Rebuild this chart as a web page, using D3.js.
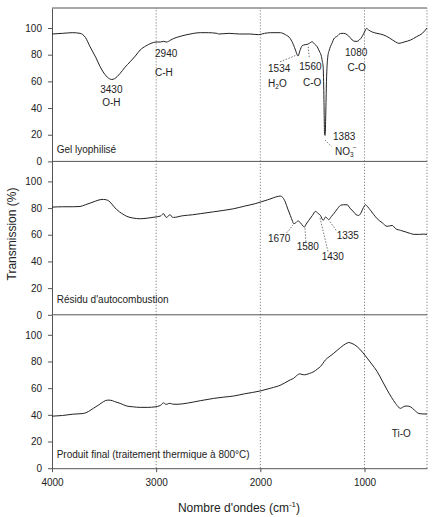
<!DOCTYPE html>
<html><head><meta charset="utf-8">
<script src="https://cdn.jsdelivr.net/npm/d3@7/dist/d3.min.js"></script>
<style>body{margin:0;background:#fff}svg{display:block;font-family:"Liberation Sans",Arial,sans-serif}</style>
</head><body>
<script>
// ---- data ----
const xTicks = [4000, 3000, 2000, 1000];
const yTicks = [0, 20, 40, 60, 80, 100];
const gridX = [3000, 2000, 1000, 400];
const panelNames = ["Gel lyophilisé", "Résidu d'autocombustion", "Produit final (traitement thermique à 800°C)"];

const gelWave = [4000,3900,3800,3730,3680,3635,3580,3538,3490,3450,3426,3400,3346,3300,3250,3200,3154,3100,3050,3000,2960,2930,2900,2860,2836,2780,2705,2640,2577,2500,2417,2400,2300,2200,2100,2016,1960,1900,1808,1760,1712,1680,1663,1638,1620,1599,1570,1551,1530,1503,1480,1455,1430,1417,1405,1397,1390,1383,1378,1372,1365,1353,1340,1327,1310,1295,1260,1231,1200,1167,1140,1118,1090,1071,1050,1023,1000,981,960,926,880,814,760,700,670,620,557,500,445,400];
const gelT = [95.5,96,96.5,96,93,86,78,71,65,62,61.4,62,66,70.5,74.7,79,83.5,86.5,88.5,89.5,89.5,90,89.5,91,92,93.5,95,96,96.5,96.5,96,95.5,96,95.5,95.5,95,96,96.5,96.5,95,92,87,83.5,79,83,86.7,87.5,87.7,88.5,89.7,88,86,82,79.7,75,71,50,20,19.5,35,60,78,83,86,89,91.8,94,95.9,96,95,93,91,90,90,91,93.5,97,99.7,98.5,97,96,94.7,92.5,89.5,88.5,89.5,91,93.5,96,100];

const resWave = [4000,3900,3800,3731,3680,3635,3580,3538,3506,3470,3442,3410,3378,3330,3282,3220,3154,3080,3010,2960,2929,2910,2897,2880,2865,2850,2833,2750,2650,2577,2450,2350,2257,2150,2050,2000,1930,1872,1808,1785,1760,1735,1712,1690,1680,1660,1638,1615,1590,1577,1560,1535,1500,1471,1445,1423,1397,1385,1375,1360,1343,1320,1295,1260,1231,1200,1167,1140,1103,1080,1055,1030,1010,990,970,942,910,878,830,782,734,700,654,600,560,526,470,430,400];
const resT = [80.7,81,81,81.2,82.5,83.7,85.3,86.3,86.5,86,84.5,81.5,78.8,76,73.8,72.5,72,72.5,73.3,74,75.8,73.5,73,74.5,75,73.5,73,74.2,75,75.8,77.2,78.3,79.5,81.5,83.3,84.5,86.2,87.8,89,88,84.5,79,74.5,70,68.3,69,70.3,69,66.5,65.8,68,70.8,74.5,77.5,76,74.5,70.8,72,73.3,72.5,71.3,73.5,75.8,79.5,82,82.5,82.5,80,77,75,74.5,77,80.5,82.5,81,78.3,75,72,69,66.3,67,64.5,63.3,62,61,60.3,60.3,60.5,60.3];

const finWave = [4000,3900,3800,3700,3650,3603,3550,3506,3470,3442,3400,3346,3282,3220,3154,3080,3010,2960,2929,2910,2897,2880,2865,2840,2800,2700,2577,2450,2350,2257,2150,2000,1900,1800,1744,1710,1680,1650,1622,1600,1577,1530,1487,1450,1423,1400,1375,1340,1295,1230,1167,1151,1120,1071,1020,974,930,878,830,782,740,702,670,654,620,590,558,520,478,440,400];
const finT = [39,39.5,40.5,41,42.5,44.9,47.5,49.9,51,51,50,48.6,46.6,46,45.6,45.6,46,47,49,48,47.9,48.5,48.6,48,47.9,48.8,50.6,52.3,53.3,54.1,55.8,57.9,60,62.5,64.9,66.3,67.4,69.5,70.7,70.3,70,71,72.4,74.5,76.2,78.5,81.2,83.5,86.2,90.5,93.8,94.2,93.5,91.2,87,82.5,78,72.4,65.5,58.6,53,48.6,45.5,44.9,46.3,46.6,46,43.5,41,40.7,40.6];

// annotations
const annoPanel = [0,0,0,0,0,0,0,0,0,0,0,0,1,1,1,1,2];
const annoText = ["3430","O-H","2940","C-H","1534","H2O","1560","C-O","1383","NO3-","1080","C-O","1670","1580","1430","1335","Ti-O"];
const annoWave = [3430,3430,3011,3011,1926,1926,1626,1590,1302,1283,1187,1163,1926,1651,1411,1267,739];
const annoT = [51.3,41.5,78.3,64,67,55.8,68.5,56.5,16,4.8,79,67.8,54.8,48.6,41,56.8,23.6];
const annoAnchor = ["middle","middle","start","start","start","start","start","start","start","start","start","start","start","start","start","start","start"];
// leader lines
const leadPanel = [0,0,0,1,1,1,1];
const leadW1 = [1811,1540,1379,1747,1571,1427,1331];
const leadT1 = [74.7,86,16,61.5,64.8,72.6,69.8];
const leadW2 = [1651,1530,1315,1686,1562,1350,1267];
const leadT2 = [79.7,77.3,11,67.3,54,47.3,62.8];

// ---- drawing ----
const W = 433, H = 517;
const left = 52, right = 427, top0 = 8, ph = 153.4;
const svg = d3.select("body").append("svg").attr("width", W).attr("height", H);
const x = d3.scaleLinear().domain([4000, 400]).range([left, right]);
const series = [[gelWave, gelT], [resWave, resT], [finWave, finT]];
const ys = [0,1,2].map(i => d3.scaleLinear().domain([0,115]).range([top0 + (i+1)*ph, top0 + i*ph]));
const nameT = [6.5, 9, 7.9];

ys.forEach((y, i) => {
  const g = svg.append("g");
  g.selectAll("line.grid").data(gridX).join("line")
    .attr("x1", d => x(d)).attr("x2", d => x(d))
    .attr("y1", y(0)).attr("y2", y(115))
    .attr("stroke", "#444").attr("stroke-width", 0.8).attr("stroke-dasharray", "1,2");
  const ax = g.append("g").attr("transform", `translate(${left},0)`)
    .call(d3.axisLeft(y).tickValues(yTicks).tickSize(4).tickPadding(6).tickSizeOuter(0));
  ax.select(".domain").attr("stroke", "#555");
  ax.selectAll(".tick line").attr("stroke", "#555");
  ax.selectAll(".tick text").attr("font-size", 10).attr("fill", "#222").attr("font-family", '"Liberation Sans",Arial,sans-serif');
  g.append("line").attr("x1", left).attr("x2", right).attr("y1", y(115)).attr("y2", y(115))
    .attr("stroke", "#555").attr("stroke-width", 1);
  const [wv, tv] = series[i];
  const pts = wv.map((w, k) => [w, tv[k]]);
  g.append("path").datum(pts)
    .attr("d", d3.line().x(d => x(d[0])).y(d => y(d[1])).curve(d3.curveMonotoneX))
    .attr("fill", "none").attr("stroke", "#222").attr("stroke-width", 1);
  g.append("text").attr("x", x(3955)).attr("y", y(nameT[i]))
    .attr("font-size", 10).attr("fill", "#222").text(panelNames[i]);
});

const yb = ys[2];
const xa = svg.append("g").attr("transform", `translate(0,${yb(0)})`)
  .call(d3.axisBottom(x).tickValues(xTicks).tickSize(4).tickPadding(7).tickSizeOuter(0).tickFormat(d3.format("d")));
xa.select(".domain").attr("stroke", "#555");
xa.selectAll(".tick line").attr("stroke", "#555");
xa.selectAll(".tick text").attr("font-size", 10).attr("fill", "#222").attr("font-family", '"Liberation Sans",Arial,sans-serif');

annoText.forEach((t, k) => {
  const y = ys[annoPanel[k]];
  const tx = svg.append("text").attr("x", x(annoWave[k])).attr("y", y(annoT[k]))
    .attr("font-size", 10).attr("fill", "#222").attr("text-anchor", annoAnchor[k]);
  if (t === "H2O") {
    tx.append("tspan").text("H");
    tx.append("tspan").attr("font-size", 6.5).attr("dy", 2.5).text("2");
    tx.append("tspan").attr("dy", -2.5).text("O");
  } else if (t === "NO3-") {
    tx.append("tspan").text("NO");
    tx.append("tspan").attr("font-size", 6.5).attr("dy", 2.5).text("3");
    tx.append("tspan").attr("font-size", 6.5).attr("dy", -7).attr("dx", -1).text("−");
  } else tx.text(t);
});
leadPanel.forEach((p, k) => {
  const y = ys[p];
  svg.append("line").attr("x1", x(leadW1[k])).attr("y1", y(leadT1[k]))
    .attr("x2", x(leadW2[k])).attr("y2", y(leadT2[k]))
    .attr("stroke", "#555").attr("stroke-width", 0.8).attr("stroke-dasharray", "1.5,1.5");
});

const xt = svg.append("text").attr("x", 239).attr("y", 512).attr("text-anchor", "middle")
  .attr("font-size", 12).attr("fill", "#222");
xt.append("tspan").text("Nombre d'ondes (cm");
xt.append("tspan").attr("font-size", 8).attr("dy", -5).text("-1");
xt.append("tspan").attr("dy", 5).text(")");
svg.append("text").attr("transform", "translate(16,234) rotate(-90)").attr("text-anchor", "middle")
  .attr("font-size", 12).attr("fill", "#222").text("Transmission (%)");
</script>
</body></html>
